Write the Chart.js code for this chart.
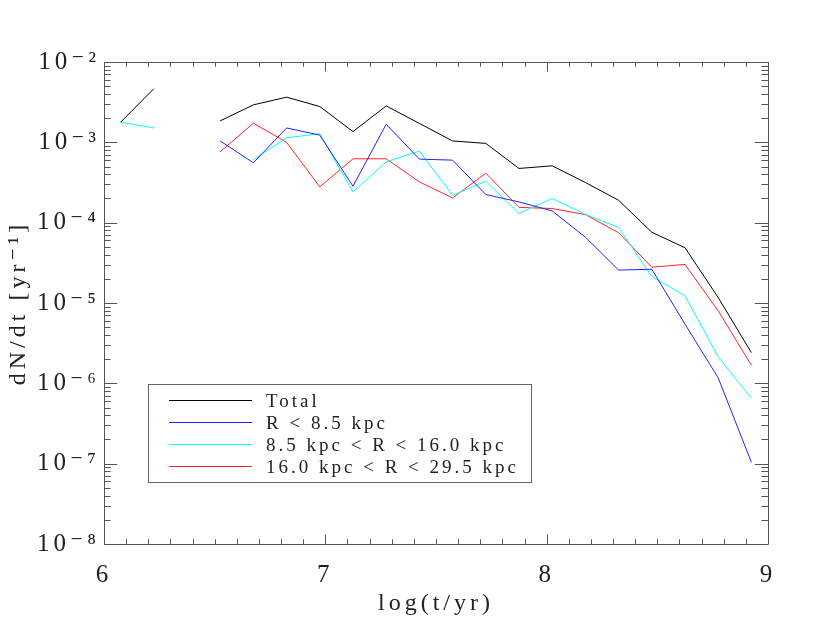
<!DOCTYPE html>
<html>
<head>
<meta charset="utf-8">
<script src="https://cdn.jsdelivr.net/npm/chart.js@4"></script>
<style>
  html, body { margin: 0; padding: 0; background: #ffffff; }
  canvas { display: block; }
</style>
</head>
<body>
<canvas id="c" width="830" height="623"></canvas>
<script>
// ---- data ----
const logT = [6.075, 6.225, 6.375, 6.525, 6.675, 6.825, 6.975, 7.125, 7.275, 7.425,
              7.575, 7.725, 7.875, 8.025, 8.175, 8.325, 8.475, 8.625, 8.775, 8.925];

const total = [1.78e-3, 4.64e-3, null, 1.85e-3, 2.93e-3, 3.65e-3, 2.79e-3, 1.36e-3, 2.84e-3, 1.72e-3,
               1.04e-3, 9.7e-4, 4.73e-4, 5.1e-4, 3.16e-4, 1.9e-4, 7.6e-5, 4.87e-5, 1.17e-5, 2.41e-6];
const inner = [null, null, null, 1.04e-3, 5.56e-4, 1.51e-3, 1.23e-3, 2.84e-4, 1.68e-3, 6.18e-4,
               6.0e-4, 2.24e-4, 1.81e-4, 1.40e-4, 6.6e-5, 2.57e-5, 2.63e-5, 5.46e-6, 1.17e-6, 1.04e-7];
const middle = [1.78e-3, 1.51e-3, null, null, 6.1e-4, 1.14e-3, 1.28e-3, 2.41e-4, 5.72e-4, 7.78e-4,
                2.19e-4, 3.28e-4, 1.30e-4, 2.0e-4, 1.27e-4, 8.7e-5, 2.14e-5, 1.23e-5, 2.14e-6, 6.5e-7];
const outer = [null, null, null, 7.63e-4, 1.73e-3, 1.0e-3, 2.79e-4, 6.24e-4, 6.24e-4, 3.22e-4,
               2.03e-4, 4.13e-4, 1.55e-4, 1.50e-4, 1.26e-4, 7.5e-5, 2.79e-5, 3.02e-5, 8.0e-6, 1.68e-6];

const seriesLabels = ['Total', 'R < 8.5 kpc', '8.5 kpc < R < 16.0 kpc', '16.0 kpc < R < 29.5 kpc'];
const xTicks = [6, 7, 8, 9];
const yTicks = [1e-8, 1e-7, 1e-6, 1e-5, 1e-4, 1e-3, 1e-2];
const yTickLabels = ['10⁻⁸', '10⁻⁷', '10⁻⁶', '10⁻⁵', '10⁻⁴', '10⁻³', '10⁻²'];
const xTitle = 'log(t/yr)';
const yTitle = 'dN/dt [yr⁻¹]';

// ---- styling ----
const FONT = "'Liberation Serif', 'DejaVu Serif', serif";
const TEXT = '#222222';
const AXIS = '#555555';
const colors = ['#000000', '#2222ff', '#00ffff', '#ff2222'];

function pts(ys) { return logT.map((x, i) => ({x: x, y: ys[i]})); }

const datasets = [total, inner, middle, outer].map((ys, k) => ({
  label: seriesLabels[k],
  data: pts(ys),
  borderColor: colors[k],
  backgroundColor: colors[k],
  borderWidth: 1,
  pointRadius: 0,
  fill: false,
  tension: 0,
  spanGaps: false
}));

// IDL-like frame with inward ticks on all four sides
const framePlugin = {
  id: 'idlFrame',
  beforeDraw(chart) { chart.ctx.letterSpacing = '4px'; },
  afterDraw(chart) {
    const ctx = chart.ctx;
    const a = chart.chartArea;
    const xs = chart.scales.x, ys = chart.scales.y;
    ctx.save();
    ctx.letterSpacing = '0px';
    ctx.strokeStyle = AXIS;
    ctx.lineWidth = 1;
    ctx.beginPath();
    ctx.rect(Math.round(a.left) + 0.5, Math.round(a.top) + 0.5,
             Math.round(a.right - a.left), Math.round(a.bottom - a.top));
    // x ticks (minor every 0.1)
    for (let i = 0; i <= 30; i++) {
      const v = xs.min + i / 10;
      const px = Math.round(xs.getPixelForValue(v)) + 0.5;
      const len = (i % 10 === 0) ? 9.6 : 4.8;
      ctx.moveTo(px, a.bottom); ctx.lineTo(px, a.bottom - len);
      ctx.moveTo(px, a.top); ctx.lineTo(px, a.top + len);
    }
    // y ticks (decades + 2..9)
    for (let e = -8; e <= -2; e++) {
      for (let m = 1; m <= 9; m++) {
        if (e === -2 && m > 1) break;
        const v = m * Math.pow(10, e);
        const py = Math.round(ys.getPixelForValue(v)) + 0.5;
        const len = (m === 1) ? 13.3 : 6.6;
        ctx.moveTo(a.left, py); ctx.lineTo(a.left + len, py);
        ctx.moveTo(a.right, py); ctx.lineTo(a.right - len, py);
      }
    }
    ctx.stroke();

    // legend box
    const bx = 148.5, by = 384.5, bw = 383, bh = 98;
    ctx.strokeStyle = '#666666';
    ctx.strokeRect(bx, by, bw, bh);
    ctx.font = '19px ' + FONT;
    ctx.letterSpacing = '3px';
    ctx.fillStyle = TEXT;
    ctx.textBaseline = 'alphabetic';
    ctx.textAlign = 'left';
    chart.data.datasets.forEach((ds, k) => {
      const rowY = 400 + k * 22;
      ctx.strokeStyle = ds.borderColor;
      ctx.beginPath();
      ctx.moveTo(169, rowY + 0.5); ctx.lineTo(252, rowY + 0.5);
      ctx.stroke();
      ctx.fillText(ds.label, 266, rowY + 6.5);
    });
    ctx.restore();
  }
};

new Chart(document.getElementById('c'), {
  type: 'line',
  data: { datasets: datasets },
  plugins: [framePlugin],
  options: {
    responsive: false,
    animation: false,
    devicePixelRatio: 1,
    layout: { padding: { top: 62, right: 62, left: 0, bottom: 0 } },
    plugins: { legend: { display: false }, tooltip: { enabled: false } },
    scales: {
      x: {
        type: 'linear',
        position: 'bottom',
        min: 6, max: 9,
        grid: { display: false, drawTicks: false },
        border: { display: false },
        afterBuildTicks(s) { s.ticks = xTicks.map(v => ({ value: v })); },
        afterFit(s) { s.height = 79; },
        ticks: {
          autoSkip: false, maxRotation: 0, padding: 16,
          color: TEXT, font: { family: FONT, size: 25 },
          callback: v => String(v)
        },
        title: {
          display: true, text: xTitle, color: TEXT,
          font: { family: FONT, size: 24 },
          padding: { top: 0, bottom: 5 }
        }
      },
      y: {
        type: 'logarithmic',
        position: 'left',
        min: 1e-8, max: 1e-2,
        grid: { display: false, drawTicks: false },
        border: { display: false },
        afterBuildTicks(s) { s.ticks = yTicks.map(v => ({ value: v })); },
        afterFit(s) { s.width = 104; },
        ticks: {
          autoSkip: false, padding: 4,
          color: TEXT, font: { family: FONT, size: 25 },
          callback: (v) => yTickLabels[yTicks.indexOf(v)] ?? ''
        },
        title: {
          display: true, text: yTitle, color: TEXT,
          font: { family: FONT, size: 24 },
          padding: { top: 4, bottom: 0 }
        }
      }
    }
  }
});
</script>
</body>
</html>
